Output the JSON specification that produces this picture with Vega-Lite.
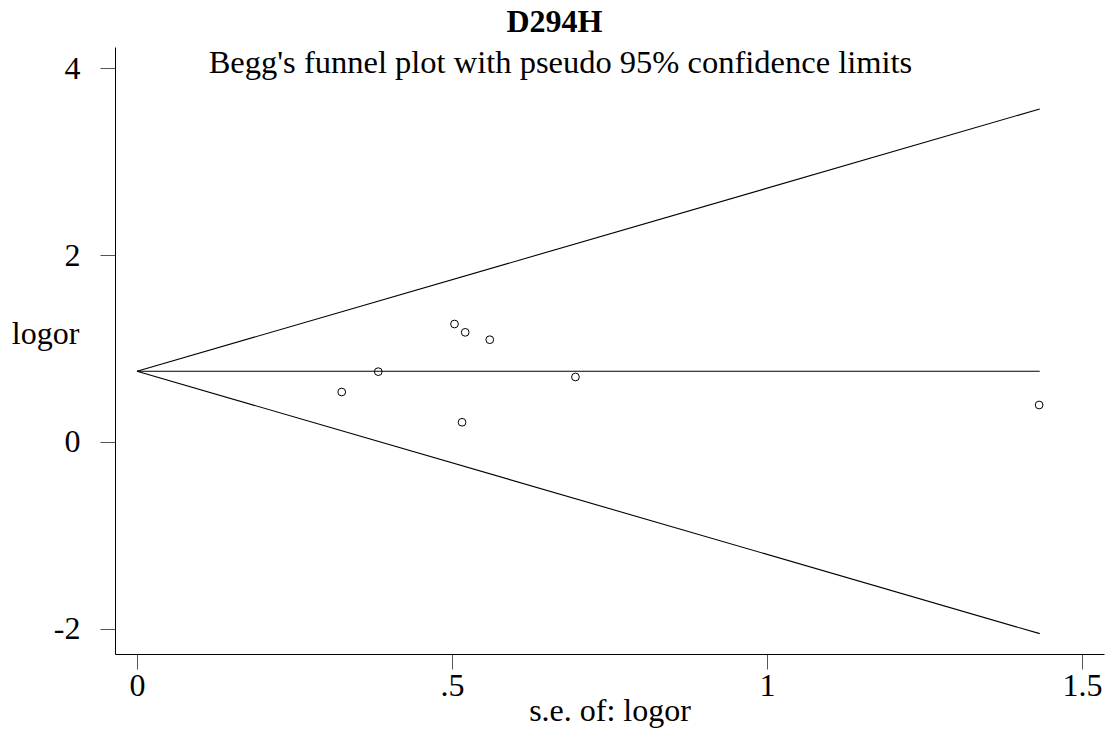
{
  "$schema": "https://vega.github.io/schema/vega-lite/v6.json",
  "width": 989,
  "height": 607,
  "autosize": {"type": "none"},
  "padding": {"left": 115, "top": 47, "right": 2, "bottom": 81},
  "background": "white",
  "title": {
    "text": "D294H",
    "font": "Liberation Serif",
    "fontSize": 32,
    "fontWeight": "bold",
    "color": "black",
    "anchor": "middle",
    "frame": "group",
    "dx": -55,
    "offset": 8
  },
  "datasets": {
    "studies": [
      {"se": 0.325, "logor": 0.534},
      {"se": 0.383, "logor": 0.752},
      {"se": 0.504, "logor": 1.262},
      {"se": 0.521, "logor": 1.173},
      {"se": 0.560, "logor": 1.094},
      {"se": 0.516, "logor": 0.210},
      {"se": 0.696, "logor": 0.695},
      {"se": 1.432, "logor": 0.395}
    ],
    "limits": [
      {"series": "upper", "se": 0, "logor": 0.756},
      {"series": "upper", "se": 1.433, "logor": 3.565},
      {"series": "lower", "se": 0, "logor": 0.756},
      {"series": "lower", "se": 1.433, "logor": -2.053},
      {"series": "pooled", "se": 0, "logor": 0.756},
      {"series": "pooled", "se": 1.433, "logor": 0.756}
    ],
    "note": [
      {"label": "Begg's funnel plot with pseudo 95% confidence limits"}
    ]
  },
  "layer": [
    {
      "data": {"name": "limits"},
      "mark": {"type": "line", "color": "black", "strokeWidth": 1.1, "clip": true},
      "encoding": {
        "x": {
          "field": "se", "type": "quantitative",
          "scale": {"domain": [-0.0349, 1.535], "nice": false, "zero": false},
          "axis": {
            "values": [0, 0.5, 1, 1.5],
            "labelExpr": "datum.value == 0.5 ? '.5' : format(datum.value, '~g')",
            "title": "s.e. of: logor",
            "labelPadding": 1,
            "titlePadding": -6
          }
        },
        "y": {
          "field": "logor", "type": "quantitative",
          "scale": {"domain": [-2.271, 4.228], "nice": false, "zero": false},
          "axis": {
            "values": [-2, 0, 2, 4],
            "labelExpr": "datum.value < 0 ? '-' + abs(datum.value) : '' + datum.value",
            "title": "logor",
            "titleAngle": 0,
            "titleAlign": "center",
            "titleBaseline": "middle",
            "titleX": -70,
            "titleY": 286,
            "labelPadding": 20
          }
        },
        "detail": {"field": "series"}
      }
    },
    {
      "data": {"name": "studies"},
      "mark": {"type": "point", "shape": "circle", "filled": false, "stroke": "black", "strokeWidth": 1, "size": 60, "opacity": 1},
      "encoding": {
        "x": {"field": "se", "type": "quantitative"},
        "y": {"field": "logor", "type": "quantitative"}
      }
    },
    {
      "data": {"name": "note"},
      "mark": {"type": "text", "font": "Liberation Serif", "fontSize": 32.5, "color": "black", "align": "center", "baseline": "alphabetic"},
      "encoding": {
        "x": {"datum": 0.6722, "type": "quantitative"},
        "y": {"datum": 3.95, "type": "quantitative"},
        "text": {"field": "label"}
      }
    }
  ],
  "config": {
    "view": {"stroke": null},
    "axis": {
      "grid": false,
      "domainColor": "black",
      "domainWidth": 1,
      "tickColor": "#555555",
      "tickWidth": 1,
      "tickSize": 15,
      "labelFont": "Liberation Serif",
      "labelFontSize": 32,
      "labelColor": "black",
      "titleFont": "Liberation Serif",
      "titleFontSize": 32,
      "titleFontWeight": "normal",
      "titleColor": "black"
    }
  }
}
